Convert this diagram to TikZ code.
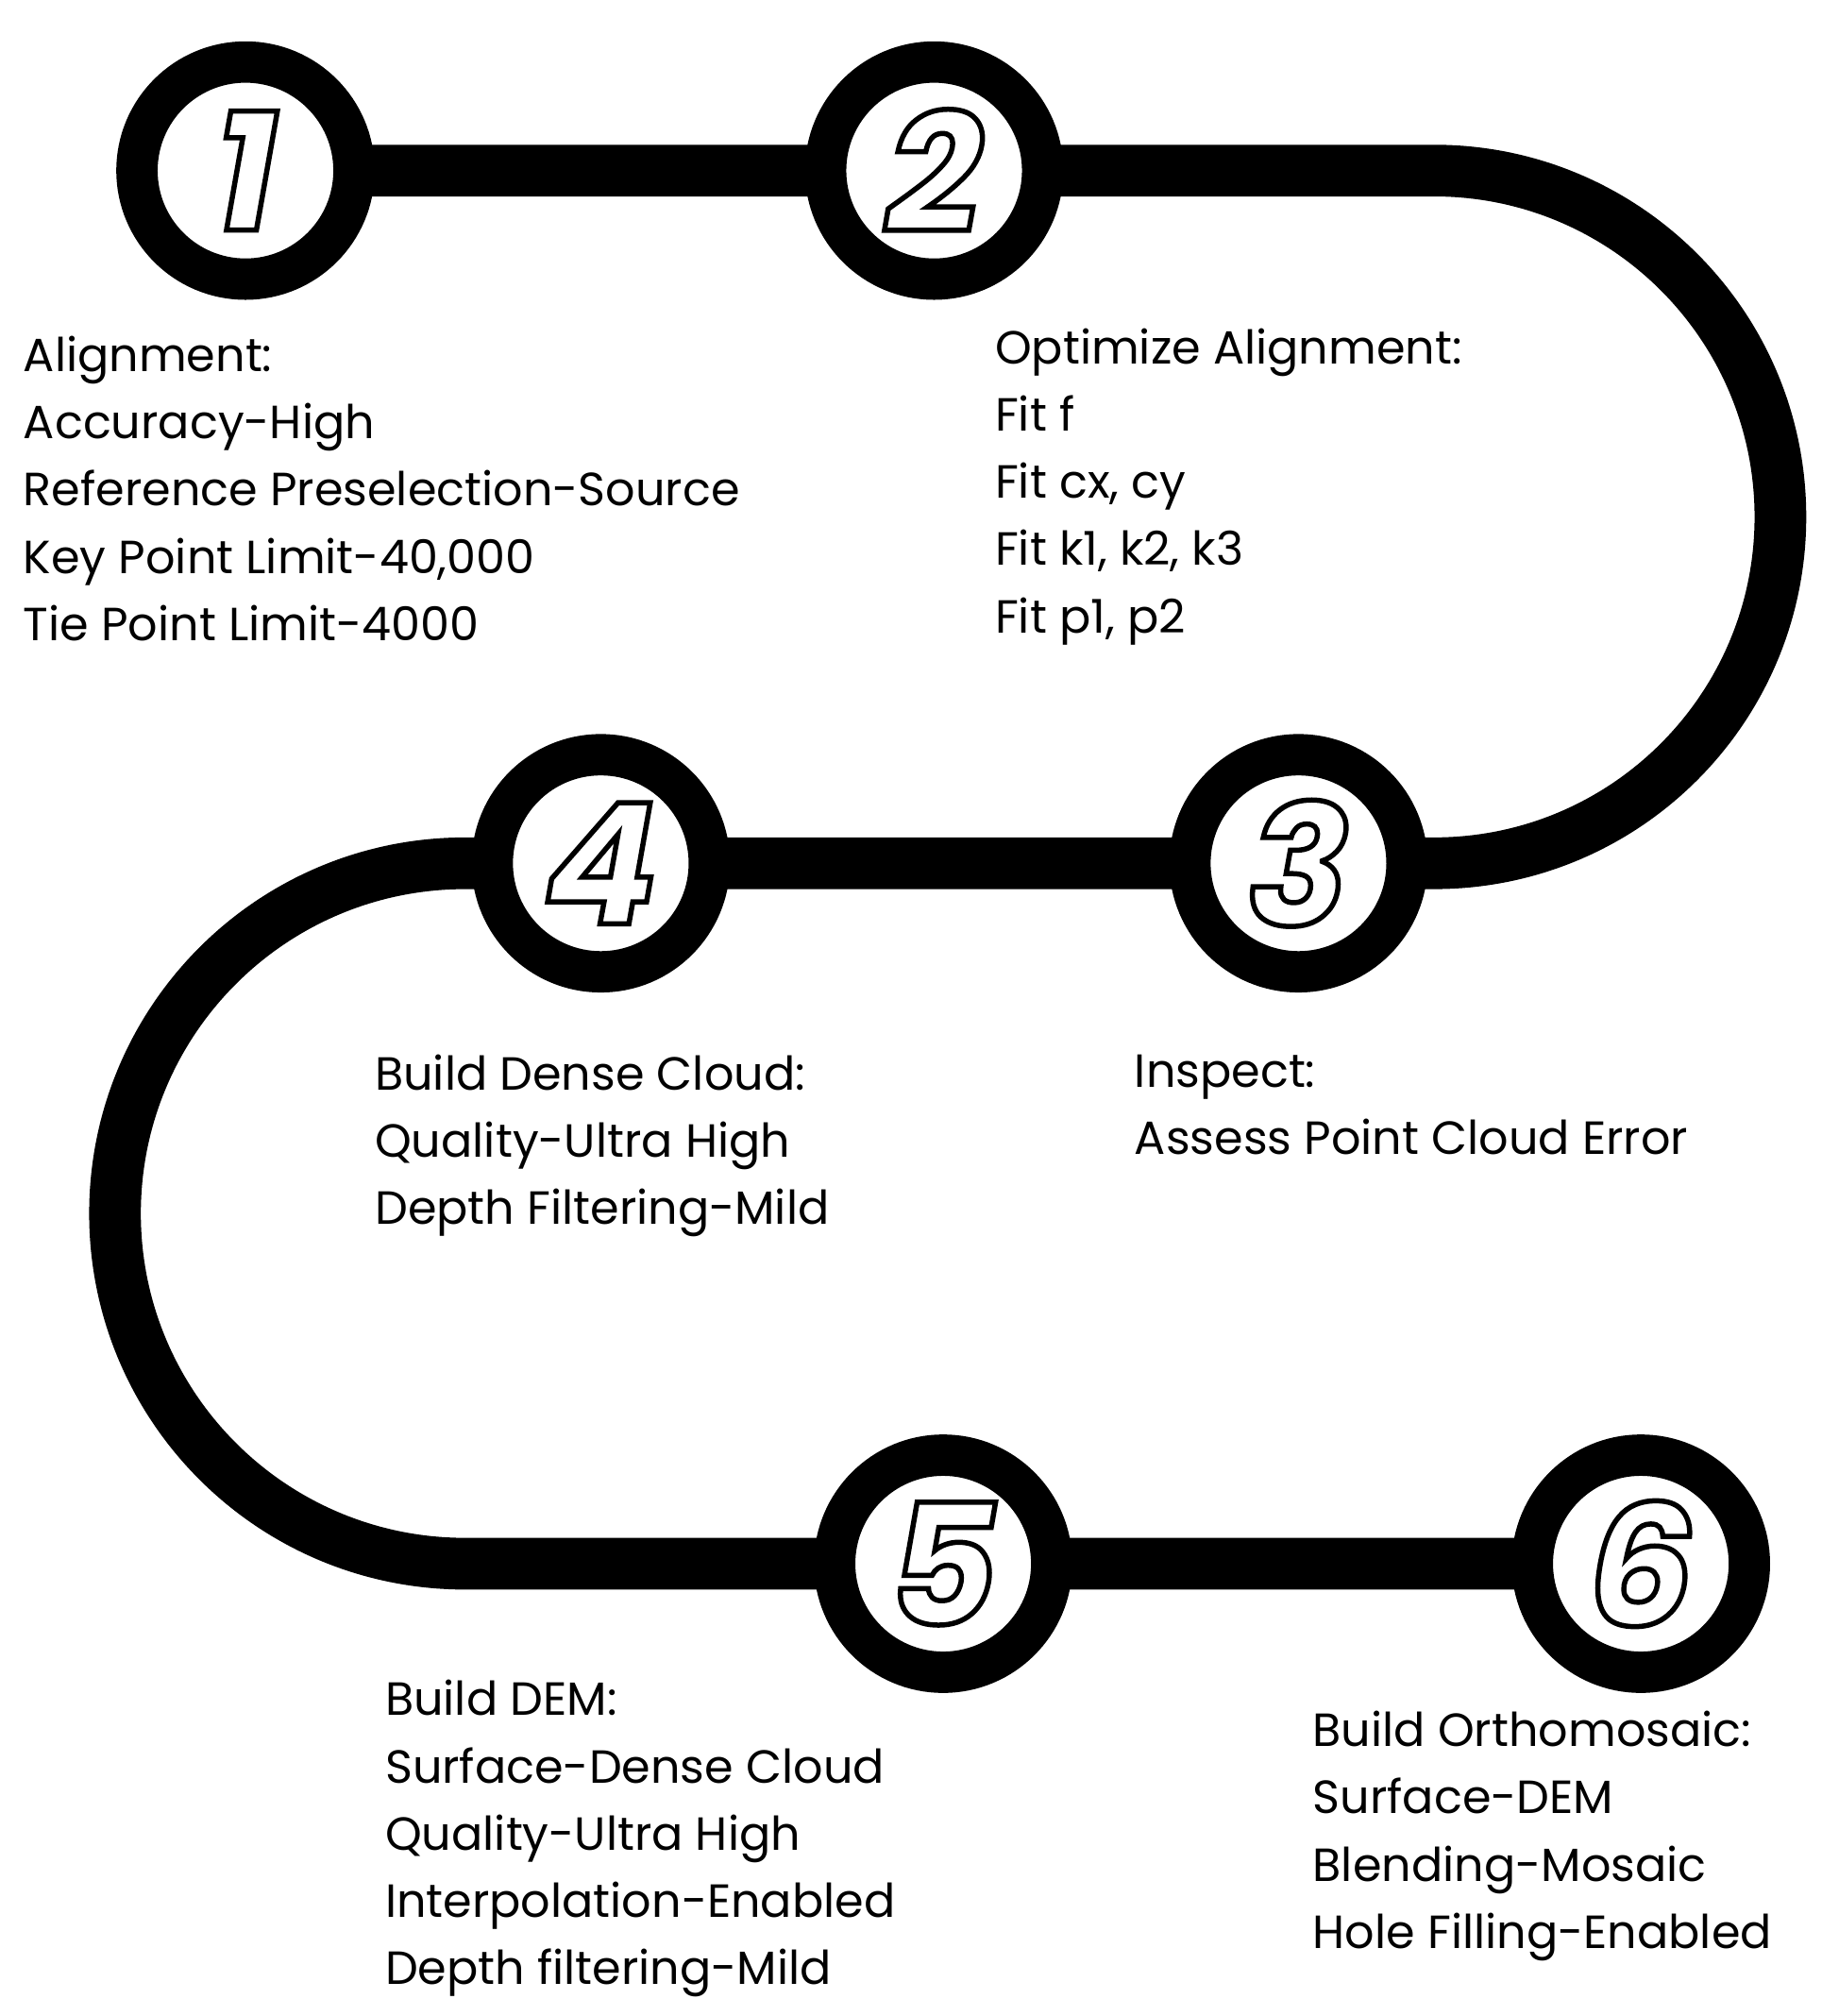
\documentclass[tikz,border=0pt]{standalone}
\usepackage{fontspec}
\setmainfont{Poppins}
\begin{document}
\begin{tikzpicture}[x=1pt,y=-1pt,
  road/.style={line width=40pt,black},
  stop/.style={circle,fill=white,draw=black,line width=32pt,minimum size=168pt,inner sep=0pt},
  num/.style={font=\fontsize{130}{130}\selectfont\bfseries\itshape},
  info/.style={anchor=north west,align=left,inner sep=0pt,font=\fontsize{36}{52}\selectfont}]
\useasboundingbox (0,0) rectangle (1410,1560);
\draw[road] (190,132) -- (1110,132) arc[start angle=-90,end angle=90,radius=268] -- (360,668)
  arc[start angle=-90,end angle=-270,radius=271] -- (1270,1210);
\node[stop] (s1) at (190,132) {};
\node[stop] (s2) at (723,132) {};
\node[stop] (s3) at (1005,668) {};
\node[stop] (s4) at (465,668) {};
\node[stop] (s5) at (730,1210) {};
\node[stop] (s6) at (1270,1210) {};
\foreach \n in {1,...,6}{\node[num] at (s\n) {\special{pdf:literal direct 2 Tr 4 w 1 g}\n\special{pdf:literal direct 0 Tr 0 g}};}
\node[info] (t1) at (18,260) {Alignment:\\Accuracy-High\\Reference Preselection-Source\\Key Point Limit-40,000\\Tie Point Limit-4000};
\node[info] (t2) at (770,254) {Optimize Alignment:\\Fit f\\Fit cx, cy\\Fit k1, k2, k3\\Fit p1, p2};
\node[info] (t4) at (290,816) {Build Dense Cloud:\\Quality-Ultra High\\Depth Filtering-Mild};
\node[info] (t3) at (878,816) {Inspect:\\Assess Point Cloud Error};
\node[info] (t5) at (298,1300) {Build DEM:\\Surface-Dense Cloud\\Quality-Ultra High\\Interpolation-Enabled\\Depth filtering-Mild};
\node[info] (t6) at (1016,1324) {Build Orthomosaic:\\Surface-DEM\\Blending-Mosaic\\Hole Filling-Enabled};
\end{tikzpicture}
\end{document}
